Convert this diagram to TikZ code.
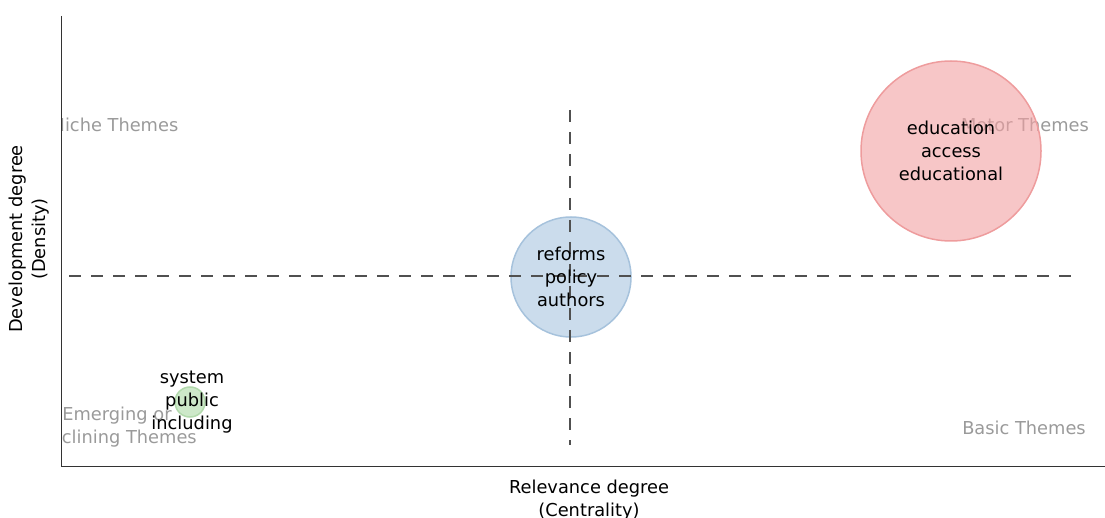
\documentclass[tikz,border=0pt]{standalone}
\usepackage{fontspec}
\setmainfont{DejaVu Sans}
\definecolor{axisc}{HTML}{333333}
\definecolor{dashc}{HTML}{505050}
\definecolor{themec}{HTML}{9A9A9A}
\definecolor{redf}{RGB}{242,160,162}
\definecolor{redd}{HTML}{EE9C9D}
\definecolor{bluef}{RGB}{168,197,223}
\definecolor{blued}{HTML}{A6C2DC}
\definecolor{greenf}{RGB}{172,217,165}
\definecolor{greend}{HTML}{B2D9AC}
\tikzset{
  lbl/.style={font=\fontsize{17.8}{23}\selectfont, align=center, inner sep=0pt, text=black},
  theme/.style={font=\fontsize{17.8}{23}\selectfont, align=center, inner sep=0pt, text=themec},
  bubble/.style={circle, draw, line width=1.5pt, fill opacity=0.6, minimum size=#1, inner sep=0pt},
  quad/.style={draw=dashc, line width=2.7pt, dash pattern=on 12pt off 10pt},
  axis/.style={draw=axisc, line width=1pt}
}
\begin{document}
\begin{tikzpicture}[x=1pt,y=-1pt]
\useasboundingbox (0,0) rectangle (1105,518);
% theme labels (clipped to plot area)
\begin{scope}
\clip (61,16) rectangle (1105,466);
\node[theme] (niche) at (115,125) {Niche Themes};
\node[theme] (motor) at (1025,125) {Motor Themes};
\node[theme] (basic) at (1024,428) {Basic Themes};
\node[theme] (emerg) at (117,427.5) {Emerging or\\Declining Themes};
\end{scope}
% bubbles
\node[bubble=180pt, draw=redd, fill=redf] (red) at (951,151) {};
\node[bubble=120pt, draw=blued, fill=bluef] (blue) at (571,277) {};
\node[bubble=30pt, draw=greend, fill=greenf] (green) at (190,402) {};
% quadrant lines
\coordinate (hl) at (69,276);
\coordinate (hr) at (1075,276);
\coordinate (vt) at (570,110);
\coordinate (vb) at (570,445);
\draw[quad] (hl) -- (hr);
\draw[quad] (vt) -- (vb);
% axes
\coordinate (otop) at (61,16);
\coordinate (orig) at (61,466);
\coordinate (xend) at (1105,466);
\draw[axis] (otop) -- (orig) -- (xend);
% bubble texts
\node[lbl] (redt) at (951,150.5) {education\\access\\educational};
\node[lbl] (bluet) at (571,276.5) {reforms\\policy\\authors};
\node[lbl] (greent) at (192,402.5) {system\\public\\including};
% axis titles
\node[lbl] (xlab) at (589,500.5) {Relevance degree\\(Centrality)};
\node[lbl, rotate=90] (ylab) at (29,239) {Development degree\\(Density)};
\end{tikzpicture}
\end{document}
